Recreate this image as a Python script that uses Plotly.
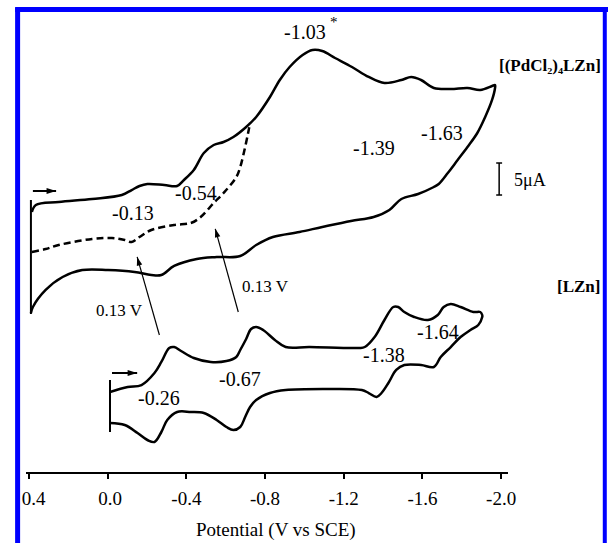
import plotly.graph_objects as go

# ---- data (potential in V vs SCE, current in uA with vertical offsets) ----
pd_solid_v = [0.385, 0.365, 0.249, 0.079, -0.072, -0.122, -0.162, -0.202, -0.288, -0.353, -0.388, -0.438,
              -0.489, -0.539, -0.589, -0.639, -0.704, -0.755, -0.825, -0.875, -0.925, -0.991, -1.041, -1.091,
              -1.156, -1.242, -1.327, -1.407, -1.493, -1.543, -1.593, -1.658, -1.744, -1.829, -1.894, -1.954, -1.969,
              -1.969, -1.954, -1.919, -1.879, -1.829, -1.779, -1.729, -1.683, -1.658, -1.578, -1.493, -1.432,
              -1.352, -1.237, -1.091, -0.975, -0.840, -0.755, -0.674, -0.554, -0.453, -0.338, -0.273, -0.222,
              -0.137, -0.002, 0.129, 0.229, 0.315, 0.380, 0.390]
pd_solid_i = [40.63, 41.72, 42.19, 42.66, 43.28, 44.06, 44.69, 45.0, 44.84, 44.69, 45.63, 47.19,
              49.84, 51.09, 51.56, 52.34, 53.91, 55.47, 58.59, 61.25, 63.28, 65.16, 65.94, 65.78,
              64.69, 63.28, 61.72, 60.78, 61.25, 61.72, 61.25, 60.0, 59.84, 60.0, 59.69, 60.31, 60.47,
              60.0, 58.13, 55.47, 52.97, 50.78, 48.75, 46.72, 45.0, 44.53, 43.44, 42.66, 40.94,
              39.84, 39.22, 38.28, 37.5, 36.72, 35.47, 33.75, 33.59, 33.28, 32.19, 30.78, 30.78,
              31.25, 31.56, 31.56, 30.47, 28.44, 25.78, 24.84]

pd_dash_v = [0.385, 0.315, 0.249, 0.079, -0.022, -0.087, -0.122, -0.162, -0.222, -0.338, -0.423, -0.473,
             -0.539, -0.589, -0.654, -0.674, -0.699, -0.714, -0.724]
pd_dash_i = [34.38, 34.84, 35.47, 36.41, 36.56, 36.25, 35.94, 36.72, 37.81, 38.59, 38.91, 39.84,
             42.03, 43.59, 46.09, 47.66, 50.78, 52.97, 54.53]

lzn_v = [-0.012, -0.102, -0.172, -0.238, -0.273, -0.313, -0.338, -0.373, -0.438, -0.524, -0.604, -0.654,
         -0.674, -0.704, -0.729, -0.755, -0.790, -0.850, -0.905, -1.026, -1.277, -1.307, -1.357, -1.407,
         -1.452, -1.477, -1.508, -1.558, -1.628, -1.678, -1.708, -1.744, -1.794, -1.859, -1.894, -1.904,
         -1.904, -1.884, -1.844, -1.794, -1.744, -1.693, -1.658, -1.593, -1.508, -1.467, -1.427, -1.392,
         -1.367, -1.327, -1.292, -1.106, -0.905, -0.825, -0.755, -0.724, -0.699, -0.674, -0.639, -0.604,
         -0.554, -0.489, -0.423, -0.353, -0.303, -0.273, -0.238, -0.202, -0.152, -0.087, -0.012]
lzn_i = [12.5, 13.28, 13.59, 15.47, 17.19, 19.38, 19.53, 18.91, 17.81, 17.19, 17.34, 17.97,
         19.06, 20.78, 22.34, 22.66, 22.19, 20.63, 19.53, 19.53, 19.38, 19.53, 21.09, 23.75,
         25.78, 25.78, 25.0, 24.22, 23.75, 24.53, 25.78, 26.25, 25.78, 25.0, 25.0, 24.53,
         24.22, 22.97, 22.19, 21.09, 19.53, 17.97, 16.41, 16.72, 16.72, 15.94, 13.91, 12.34,
         11.72, 12.34, 12.81, 12.97, 12.81, 12.34, 11.25, 10.16, 8.59, 7.03, 6.56, 7.03,
         8.13, 9.22, 9.38, 9.38, 8.13, 6.25, 4.69, 5.0, 6.09, 7.34, 7.66]

# start markers (vertical lines at initial potential)
pd_start_v = [0.390, 0.390]
pd_start_i = [42.5, 24.69]
lzn_start_v = [-0.012, -0.012]
lzn_start_i = [14.38, 6.25]

# arrows: shaft (tail, head) and head direction (degrees clockwise from up)
arrow_shafts = [
    ([-0.263, -0.150], [21.41, 33.6], 1.2, 9, -16),
    ([-0.664, -0.547], [25.0, 38.0], 1.2, 9, -16),
    ([0.380, 0.262], [43.91, 43.91], 2.0, 10, 90),
    ([-0.022, -0.150], [15.47, 15.47], 2.0, 10, 90),
]

tick_vals = [0.4, 0.0, -0.4, -0.8, -1.2, -1.6, -2.0]
tick_text = ["\u00a0\u00a00.4", "\u00a00.0", "-0.4", "-0.8", "-1.2", "-1.6", "-2.0"]

peak_labels = ["-0.13", "-0.54", "-1.39", "-1.63", "-1.03", "-0.26", "-0.67", "-1.38", "-1.64"]
peak_v = [-0.127, -0.448, -1.352, -1.698, -1.001, -0.263, -0.674, -1.407, -1.678]
peak_i = [40.47, 43.59, 50.63, 52.97, 68.75, 11.56, 14.53, 18.28, 21.88]

SERIF = "Liberation Serif"
line_style = dict(color="black", width=2.5)

fig = go.Figure()
fig.add_trace(go.Scatter(x=pd_solid_v, y=pd_solid_i, mode="lines", line=line_style, line_shape="spline",
                         showlegend=False, hoverinfo="skip"))
fig.add_trace(go.Scatter(x=pd_dash_v, y=pd_dash_i, mode="lines",
                         line=dict(color="black", width=2.5, dash="7px,4px"), line_shape="spline",
                         showlegend=False, hoverinfo="skip"))
fig.add_trace(go.Scatter(x=lzn_v, y=lzn_i, mode="lines", line=line_style, line_shape="spline",
                         showlegend=False, hoverinfo="skip"))
fig.add_trace(go.Scatter(x=pd_start_v, y=pd_start_i, mode="lines", line=dict(color="black", width=2),
                         showlegend=False, hoverinfo="skip"))
fig.add_trace(go.Scatter(x=lzn_start_v, y=lzn_start_i, mode="lines", line=dict(color="black", width=2),
                         showlegend=False, hoverinfo="skip"))

for av, ai, lw, hs, ang in arrow_shafts:
    fig.add_trace(go.Scatter(x=av, y=ai, mode="lines", line=dict(color="black", width=lw),
                             showlegend=False, hoverinfo="skip"))
    fig.add_trace(go.Scatter(x=[av[-1]], y=[ai[-1]], mode="markers",
                             marker=dict(symbol="arrow", size=hs, angle=ang, color="black", line=dict(width=0)),
                             showlegend=False, hoverinfo="skip"))

ann = []
for t, xv, yv in zip(peak_labels, peak_v, peak_i):
    ann.append(dict(x=xv, y=yv, text=t, showarrow=False, xref="x", yref="y", yanchor="middle",
                    font=dict(family=SERIF, size=20, color="black")))
ann.append(dict(x=-1.151, y=70.31, text="*", showarrow=False, yanchor="middle",
                font=dict(family=SERIF, size=15, color="black")))
ann.append(dict(x=-0.062, y=25.16, text="0.13 V", showarrow=False, yanchor="middle",
                font=dict(family=SERIF, size=17, color="black")))
ann.append(dict(x=-0.800, y=28.91, text="0.13 V", showarrow=False, yanchor="middle",
                font=dict(family=SERIF, size=17, color="black")))
# compound labels (outside the axis range -> paper coordinates)
ann.append(dict(x=1.1967, y=0.9004, xref="paper", yref="paper", xanchor="right", yanchor="middle",
                text="<b>[(PdCl\u2082)\u2084LZn]</b>",
                showarrow=False, font=dict(family=SERIF, size=17, color="black")))
ann.append(dict(x=1.1947, y=0.4093, xref="paper", yref="paper", xanchor="right", yanchor="middle",
                text="<b>[LZn]</b>",
                showarrow=False, font=dict(family=SERIF, size=17, color="black")))
# scale bar label
ann.append(dict(x=1.0082, y=0.646, xref="paper", yref="paper", xanchor="left", yanchor="middle", text="5μA",
                showarrow=False, font=dict(family=SERIF, size=18, color="black")))
# axis title
ann.append(dict(x=-0.855, y=-0.128, xref="x", yref="paper", yanchor="middle", text="Potential (V vs SCE)",
                showarrow=False, font=dict(family=SERIF, size=19, color="black")))

shapes = [
    # scale bar
    dict(type="line", xref="x", yref="y", x0=-1.990, x1=-1.990, y0=43.28, y1=48.28, line=dict(color="black", width=1.5)),
    dict(type="line", xref="x", yref="y", x0=-1.975, x1=-2.005, y0=48.28, y1=48.28, line=dict(color="black", width=1.5)),
    dict(type="line", xref="x", yref="y", x0=-1.975, x1=-2.005, y0=43.28, y1=43.28, line=dict(color="black", width=1.5)),
    # blue frame
    dict(type="line", xref="paper", yref="paper", x0=-0.0174, x1=-0.0174, y0=-0.25, y1=1.0276, line=dict(color="#0000ff", width=5)),
    dict(type="line", xref="paper", yref="paper", x0=-0.0225, x1=1.21, y0=1.0232, y1=1.0232, line=dict(color="#0000ff", width=5)),
    dict(type="line", xref="paper", yref="paper", x0=1.2008, x1=1.2008, y0=-0.25, y1=1.0276, line=dict(color="#0000ff", width=4)),
]

fig.update_layout(
    width=608, height=543, autosize=False,
    margin=dict(l=20, r=100, t=20, b=71, pad=0),
    paper_bgcolor="white", plot_bgcolor="white",
    xaxis=dict(range=[0.415, -2.035], tickvals=tick_vals, ticktext=tick_text,
               showgrid=False, zeroline=False, showline=True, linecolor="black", linewidth=2,
               ticks="outside", ticklen=5, tickwidth=2, tickcolor="black", ticklabelstandoff=3,
               tickfont=dict(family=SERIF, size=19, color="black")),
    yaxis=dict(range=[0, 70.625], visible=False),
    annotations=ann, shapes=shapes, showlegend=False,
)

fig.write_html("out.html", config={"displayModeBar": False},
               post_script="document.body.style.margin='0px';document.body.style.overflow='hidden';")
